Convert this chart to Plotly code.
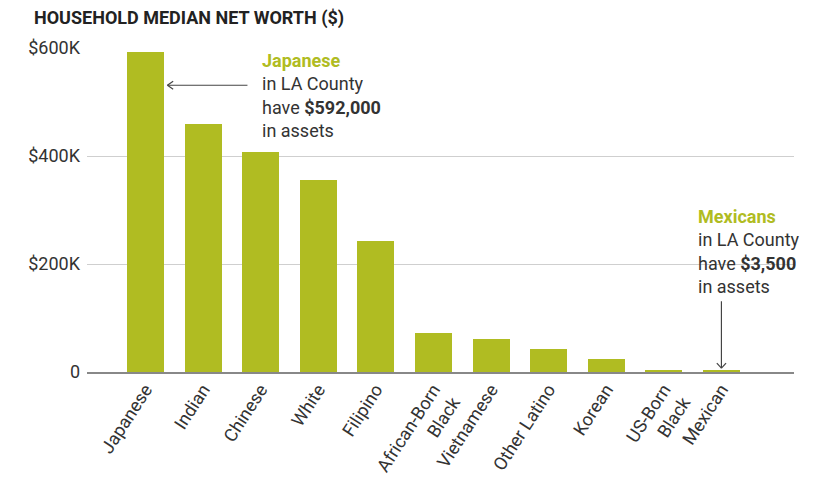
import plotly.graph_objects as go

# Household median net worth by group, LA County
groups = ["Japanese", "Indian", "Chinese", "White", "Filipino",
          "African-Born<br>Black", "Vietnamese", "Other Latino", "Korean",
          "US-Born<br>Black", "Mexican"]
net_worth = [592000, 460000, 408200, 355000, 243000,
             72000, 61500, 42500, 23400, 4000, 3500]

tick_vals = [0, 200000, 400000, 600000]
tick_text = ["0", "$200K", "$400K", "$600K"]

GREEN = "#b0bc22"
TEXT = "#333333"
FONT = "Roboto"

x_idx = list(range(len(groups)))

fig = go.Figure(go.Bar(
    x=x_idx, y=net_worth,
    marker=dict(color=GREEN, line=dict(width=0)),
    width=0.64,
    hoverinfo="skip",
))

shapes = []

def arrow(x0, y0, x1, y1, head):
    """Shaft from (x0,y0) to tip (x1,y1) plus an open chevron at the tip."""
    line = dict(color="#444444", width=1.2)
    shapes.append(dict(type="line", xref="x", yref="y",
                       x0=x0, y0=y0, x1=x1, y1=y1, line=line))
    for (dx, dy) in head:
        shapes.append(dict(type="line", xref="x", yref="y",
                           x0=x1 + dx, y0=y1 + dy, x1=x1, y1=y1, line=line))

# Japanese callout arrow pointing left to the bar
jp_y = 531000
jp_tip = 0 + 0.32 + 0.06
arrow(1.77, jp_y, jp_tip, jp_y, [(0.1, 7500), (0.1, -7500)])

# Mexican callout arrow pointing down to the bar
mx_x = 10
arrow(mx_x, 131000, mx_x, net_worth[10] + 3500, [(-0.08, 9500), (0.08, 9500)])

annotations = [
    dict(text="HOUSEHOLD MEDIAN NET WORTH ($)", xref="paper", yref="paper",
         x=-0.078, y=1.0926, xanchor="left", yanchor="middle", showarrow=False,
         font=dict(family=FONT, size=18, color="#222222", weight="bold")),
    dict(text=(f"<b><span style='color:{GREEN}'>Japanese</span></b><br>"
               "in LA County<br>have <b>$592,000</b><br>in assets"),
         xref="x", yref="y", x=1.99, y=600000, xanchor="left", yanchor="top",
         align="left", showarrow=False,
         font=dict(family=FONT, size=18, color=TEXT)),
    dict(text=(f"<b><span style='color:{GREEN}'>Mexicans</span></b><br>"
               "in LA County<br>have <b>$3,500</b><br>in assets"),
         xref="x", yref="y", x=9.56, y=312000, xanchor="left", yanchor="top",
         align="left", showarrow=False,
         font=dict(family=FONT, size=18, color=TEXT)),
]

fig.update_layout(
    width=828, height=477,
    margin=dict(l=87, r=34, t=48, b=105),
    paper_bgcolor="white", plot_bgcolor="white",
    showlegend=False,
    bargap=0,
    font=dict(family=FONT, color=TEXT),
    xaxis=dict(
        range=[-1.016, 11.26],
        tickmode="array", tickvals=x_idx, ticktext=groups,
        tickangle=-57, tickfont=dict(size=18, color=TEXT),
        showgrid=False, zeroline=False,
        showline=True, linecolor="#888888", linewidth=2,
        ticks="", fixedrange=True, automargin=False,
        ticklabelstandoff=-2,
    ),
    yaxis=dict(
        range=[0, 600000],
        tickmode="array", tickvals=tick_vals, ticktext=tick_text,
        tickfont=dict(size=18, color=TEXT),
        showgrid=True, gridcolor="#cfcfcf", gridwidth=1,
        zeroline=False, showline=False, ticks="",
        ticklabelstandoff=6, fixedrange=True, automargin=False,
    ),
    shapes=shapes,
    annotations=annotations,
)

fig.write_html("out.html")
